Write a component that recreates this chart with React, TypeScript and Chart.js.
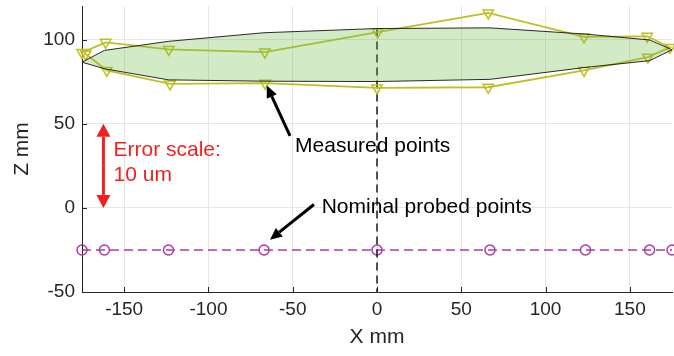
import React, { useEffect, useRef } from "react";
import { Chart, registerables } from "chart.js";

Chart.register(...registerables);

const FONT = '"Liberation Sans", Arial, Helvetica, sans-serif';
const AXIS_COLOR = "#262626";
const RED = "#ee2222";

// Axis limits and tick values (mm)
const xLimits = [-175, 175];
const zLimits = [-50, 120];
const xTicks = [-150, -100, -50, 0, 50, 100, 150];
const zTicks = [-50, 0, 50, 100];

// Nominal probe positions
const nominalX = [-175, -161.7, -123.7, -67, 0, 67, 123.7, 161.7, 175];
const nominalZ = [-25, -25, -25, -25, -25, -25, -25, -25, -25];

// Measured points (error magnified), traced around the loop
const measuredX = [-175, -161, -123.5, -66.5, 0.4, 66, 122.8, 160.3, 173.8, 160.7, 122.8, 66, 0, -66.4, -122.8, -160.3, -172.8];
const measuredZ = [92.3, 98.4, 94.2, 92.6, 104.5, 115.9, 101.6, 102.0, 95.4, 89.6, 81.7, 71.7, 71.3, 74.1, 73.7, 81.7, 91.5];

// Nominal surface outline (shaded patch)
const patchX = [-175, -161.7, -123.7, -67, 0, 67, 123.7, 161.7, 175, 161.7, 123.7, 67, 0, -67, -123.7, -161.7, -175];
const patchZ = [86.6, 93.6, 99.0, 104.1, 106.6, 107.0, 103.3, 99.8, 94.0, 87.5, 83.5, 76.4, 75.1, 75.3, 76.1, 82.7, 86.6];

// Probe axis reference lines
const probeAxisX = [-175, 0];
const probeAxisTopZ = [86.6, 106.6];
const probeAxisBottomZ = -50;

// Error scale bar: spans 0..50 mm on the plot, standing for 10 um
const errorBarX = -162.3;
const errorBarZ = [0, 50];

const textLabels = [
  { text: "Measured points", x: -48.6, z: 33.3, color: "#000000" },
  { text: "Nominal probed points", x: -32.8, z: -3.0, color: "#000000" },
  { text: "Error scale:", x: -156.3, z: 30.9, color: RED },
  { text: "10 um", x: -156.3, z: 15.9, color: RED },
];

const pointerArrows = [
  { from: [-51.6, 42.8], to: [-65.4, 72.7] },
  { from: [-37.4, 2.0], to: [-63.5, -18.9] },
];

const toPoints = (xs: number[], zs: number[]) => xs.map((x, i) => ({ x, y: zs[i] }));

function drawArrow(
  ctx: CanvasRenderingContext2D,
  x0: number, y0: number, x1: number, y1: number,
  color: string, width: number, headLen: number, headHalf: number
) {
  const ang = Math.atan2(y1 - y0, x1 - x0);
  const bx = x1 - headLen * Math.cos(ang);
  const by = y1 - headLen * Math.sin(ang);
  ctx.strokeStyle = color;
  ctx.lineWidth = width;
  ctx.setLineDash([]);
  ctx.beginPath();
  ctx.moveTo(x0, y0);
  ctx.lineTo(bx, by);
  ctx.stroke();
  ctx.fillStyle = color;
  ctx.beginPath();
  ctx.moveTo(x1, y1);
  ctx.lineTo(bx + headHalf * Math.sin(ang), by - headHalf * Math.cos(ang));
  ctx.lineTo(bx - headHalf * Math.sin(ang), by + headHalf * Math.cos(ang));
  ctx.closePath();
  ctx.fill();
}

const overlayPlugin = {
  id: "overlay",
  beforeDatasetsDraw(chart: any) {
    const { ctx, chartArea } = chart;
    const xs = chart.scales.x;
    const ys = chart.scales.y;
    ctx.save();
    ctx.strokeStyle = AXIS_COLOR;
    ctx.lineWidth = 1;
    ctx.beginPath();
    for (const v of xTicks) {
      const px = Math.round(xs.getPixelForValue(v)) + 0.5;
      ctx.moveTo(px, chartArea.bottom);
      ctx.lineTo(px, chartArea.bottom - 5);
    }
    for (const v of zTicks) {
      const py = Math.round(ys.getPixelForValue(v)) + 0.5;
      ctx.moveTo(chartArea.left, py);
      ctx.lineTo(chartArea.left + 5, py);
    }
    ctx.stroke();
    ctx.restore();
  },
  afterDatasetsDraw(chart: any) {
    const { ctx } = chart;
    const xs = chart.scales.x;
    const ys = chart.scales.y;
    const px = (v: number) => xs.getPixelForValue(v);
    const py = (v: number) => ys.getPixelForValue(v);
    ctx.save();

    for (const a of pointerArrows) {
      drawArrow(ctx, px(a.from[0]), py(a.from[1]), px(a.to[0]), py(a.to[1]), "#000000", 3, 12, 5.5);
    }

    // double-headed error scale bar
    const ex = px(errorBarX);
    const yLo = py(errorBarZ[0]);
    const yHi = py(errorBarZ[1]);
    const ym = (yLo + yHi) / 2;
    drawArrow(ctx, ex, ym, ex, yHi, RED, 3, 13, 7);
    drawArrow(ctx, ex, ym, ex, yLo, RED, 3, 13, 7);

    ctx.font = `21px ${FONT}`;
    ctx.textAlign = "left";
    ctx.textBaseline = "alphabetic";
    for (const t of textLabels) {
      ctx.fillStyle = t.color;
      ctx.fillText(t.text, px(t.x), py(t.z));
    }
    ctx.restore();
  },
};

export default function App() {
  const canvasRef = useRef<HTMLCanvasElement | null>(null);

  useEffect(() => {
    const canvas = canvasRef.current;
    if (!canvas) return;

    const chart = new Chart(canvas, {
      type: "line",
      data: {
        datasets: [
          {
            label: "Surface",
            data: toPoints(patchX, patchZ),
            order: 0,
            borderColor: "rgba(20,20,20,0.9)",
            borderWidth: 1,
            backgroundColor: "rgba(110,185,70,0.3)",
            fill: "shape",
            pointRadius: 0,
            tension: 0,
          },
          {
            label: "Measured points",
            data: toPoints(measuredX, measuredZ),
            order: 1,
            borderColor: "rgb(191,191,35)",
            borderWidth: 1.8,
            fill: false,
            pointStyle: "triangle",
            pointRotation: 180,
            pointRadius: 6,
            pointBorderWidth: 1.5,
            pointBorderColor: "rgb(191,191,35)",
            pointBackgroundColor: "rgba(0,0,0,0)",
            tension: 0,
            clip: false,
          },
          ...probeAxisX.map((x, i) => ({
            label: `Probe axis ${i + 1}`,
            data: [
              { x, y: probeAxisTopZ[i] },
              { x, y: probeAxisBottomZ },
            ],
            order: 2,
            borderColor: "#1a1a1a",
            borderWidth: 1.5,
            borderDash: [8, 5],
            fill: false,
            pointRadius: 0,
            tension: 0,
          })),
          {
            label: "Nominal probed points",
            data: toPoints(nominalX, nominalZ),
            order: 3,
            borderColor: "rgb(172,58,172)",
            borderWidth: 1.5,
            borderDash: [9, 5],
            fill: false,
            pointStyle: "circle",
            pointRadius: 5,
            pointBorderWidth: 1.5,
            pointBorderColor: "rgb(172,58,172)",
            pointBackgroundColor: "rgba(0,0,0,0)",
            tension: 0,
            clip: false,
          },
        ],
      },
      options: {
        animation: false,
        responsive: false,
        devicePixelRatio: 1,
        layout: { autoPadding: false, padding: { top: 6, right: 2, left: 0, bottom: 0 } },
        plugins: {
          legend: { display: false },
          tooltip: { enabled: false },
        },
        elements: { line: { tension: 0 } },
        scales: {
          x: {
            type: "linear",
            min: xLimits[0],
            max: xLimits[1],
            afterBuildTicks: (s: any) => {
              s.ticks = xTicks.map((v) => ({ value: v }));
            },
            afterFit: (s: any) => {
              s.height = 64;
              s.paddingLeft = 0;
              s.paddingRight = 0;
            },
            grid: { color: "#e6e6e6", lineWidth: 1, drawTicks: false },
            border: { display: true, color: AXIS_COLOR, width: 1 },
            ticks: {
              padding: 6,
              color: AXIS_COLOR,
              font: { family: FONT, size: 19 },
              maxRotation: 0,
            },
            title: {
              display: true,
              text: "X mm",
              color: AXIS_COLOR,
              font: { family: FONT, size: 21 },
              padding: { top: 0, bottom: 6 },
            },
          },
          y: {
            type: "linear",
            min: zLimits[0],
            max: zLimits[1],
            afterBuildTicks: (s: any) => {
              s.ticks = zTicks.map((v) => ({ value: v }));
            },
            afterFit: (s: any) => {
              s.width = 82;
              s.paddingTop = 0;
              s.paddingBottom = 0;
            },
            grid: { color: "#e6e6e6", lineWidth: 1, drawTicks: false },
            border: { display: true, color: AXIS_COLOR, width: 1 },
            ticks: {
              padding: 7,
              color: AXIS_COLOR,
              font: { family: FONT, size: 19 },
            },
            title: {
              display: true,
              text: "Z mm",
              color: AXIS_COLOR,
              font: { family: FONT, size: 21 },
              padding: { top: 10, bottom: 0 },
            },
          },
        },
      },
      plugins: [overlayPlugin],
    } as any);

    return () => chart.destroy();
  }, []);

  return (
    <div style={{ position: "absolute", left: 0, top: 0, width: 674, height: 356, background: "#ffffff" }}>
      <canvas ref={canvasRef} width={674} height={356} style={{ display: "block", width: 674, height: 356 }} />
    </div>
  );
}
